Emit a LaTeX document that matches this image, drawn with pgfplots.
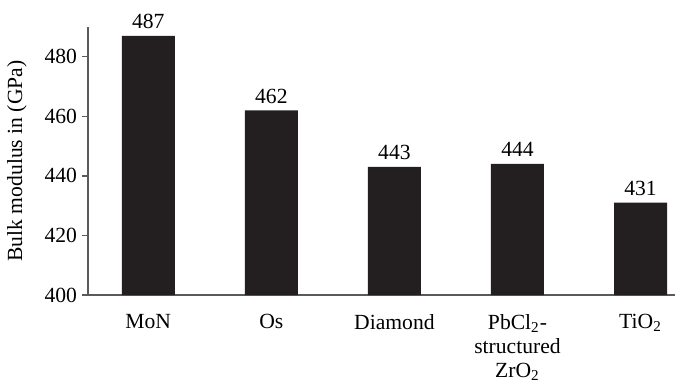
\documentclass[border=0pt]{standalone}
\usepackage{fontspec}
\setmainfont{Liberation Serif}
\usepackage{pgfplots}
\pgfplotsset{compat=1.18}
\definecolor{barfill}{HTML}{231F20}
\definecolor{axisgray}{HTML}{5A5A5A}
\begin{document}
\begin{tikzpicture}[font=\fontsize{10.8}{12}\selectfont]
\useasboundingbox (-44pt,-43.5pt) rectangle (293.5pt,147.5pt);
\begin{axis}[
  scale only axis, width=293.5pt, height=134pt,
  xmin=-0.49, xmax=4.28, ymin=400, ymax=490,
  axis x line*=bottom, axis y line*=left,
  axis line style={axisgray, line width=0.65pt},
  ytick={400,420,...,480},
  xtick={0,1,2,3,4},
  xticklabels={MoN, Os, Diamond, {PbCl\textsubscript{2}-\\structured\\ZrO\textsubscript{2}}, TiO\textsubscript{2}},
  xticklabel style={align=center, anchor=north, yshift=-3pt},
  yticklabel style={xshift=1pt},
  x tick style={draw=none},
  y tick style={axisgray, line width=0.65pt},
  tick align=outside, major tick length=3pt,
  /pgf/number format/assume math mode=true,
  ylabel={Bulk modulus in (GPa)},
  every axis y label/.style={at={(axis description cs:0,0.5)}, xshift=-35.5pt, rotate=90, anchor=center},
  nodes near coords,
  nodes near coords style={/pgf/number format/assume math mode=true},
  clip=false,
]
\addplot[ybar, bar width=26.5pt, fill=barfill, draw=none] coordinates {
  (0,487) (1,462) (2,443) (3,444) (4,431)
};
\end{axis}
\end{tikzpicture}
\end{document}
